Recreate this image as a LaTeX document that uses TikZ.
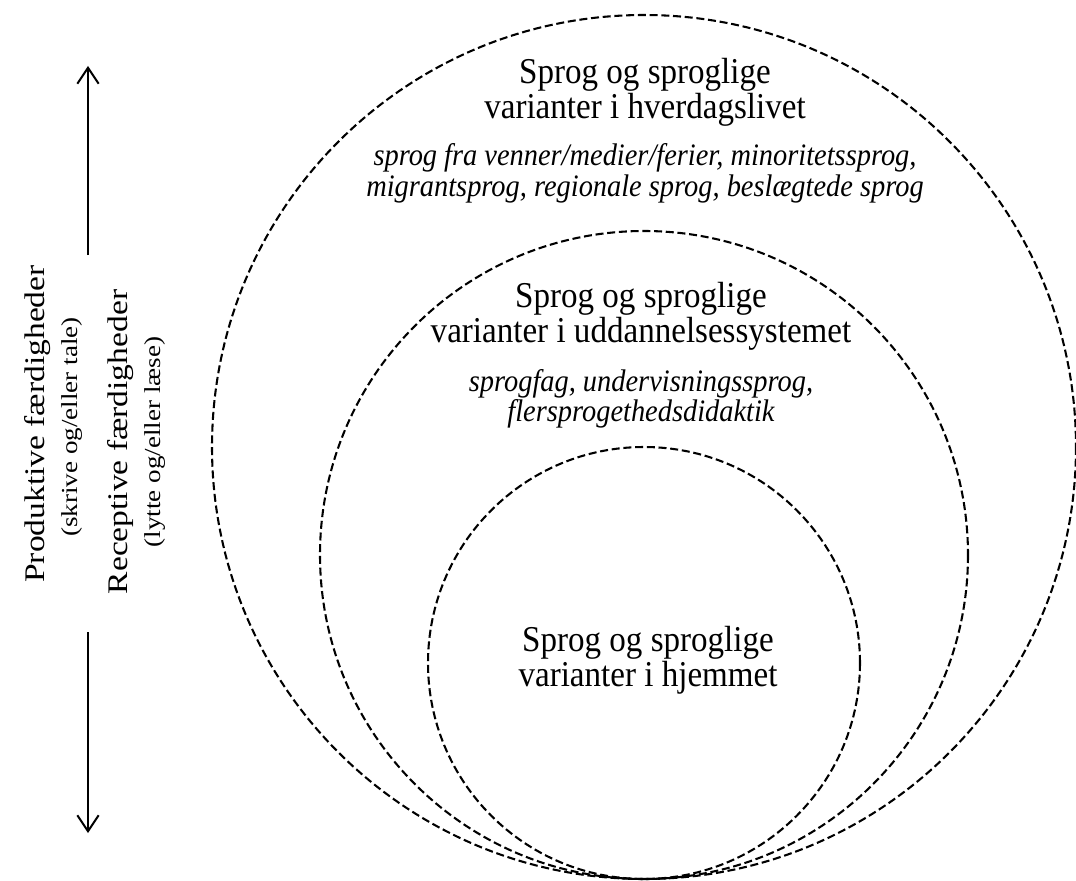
\documentclass[tikz,border=0pt]{standalone}
\usepackage{graphicx}
\usepackage{fontspec}
\setmainfont{Liberation Serif}
\usetikzlibrary{arrows.meta}
\newcommand\vst[1]{\scalebox{1}[1.1]{#1}}
\newcommand\hst[1]{\scalebox{1.18}[1]{#1}}
\tikzset{
  ring/.style={draw=black, line width=1.55pt, dash pattern=on 6pt off 2.8pt},
  title/.style={anchor=base, inner sep=0pt, font=\fontsize{24.8pt}{26pt}\selectfont},
  items/.style={anchor=base, inner sep=0pt, font=\fontsize{21.3pt}{23pt}\selectfont\itshape},
  side/.style={anchor=base, inner sep=0pt, rotate=90, font=\fontsize{21.3pt}{23pt}\selectfont},
  sidesub/.style={anchor=base, inner sep=0pt, rotate=90, font=\fontsize{17.2pt}{19pt}\selectfont},
  arr/.style={line width=1.5pt, -{Straight Barb[length=12pt,width=16pt]}}
}
\begin{document}
\begin{tikzpicture}[x=0.75pt, y=-0.75pt]
\useasboundingbox (0,0) rectangle (1076,881);
% circles
\coordinate (cOuter) at (644,447);
\coordinate (cMid) at (644,555);
\coordinate (cIn) at (644,663);
\draw[ring] (cOuter) circle[radius=432];
\draw[ring] (cMid) circle[radius=324];
\draw[ring] (cIn) circle[radius=216];
% outer texts
\node[title] (o1) at (645,84) {\vst{Sprog og sproglige}};
\node[title] (o2) at (645,118) {\vst{varianter i hverdagslivet}};
\node[items] (o3) at (645,166) {\vst{sprog fra venner/medier/ferier, minoritetssprog,}};
\node[items] (o4) at (645,196) {\vst{migrantsprog, regionale sprog, beslægtede sprog}};
% middle texts
\node[title] (m1) at (641,307) {\vst{Sprog og sproglige}};
\node[title] (m2) at (641,342) {\vst{varianter i uddannelsessystemet}};
\node[items] (m3) at (641,391) {\vst{sprogfag, undervisningssprog,}};
\node[items] (m4) at (641,421) {\vst{flersprogethedsdidaktik}};
% inner texts
\node[title] (i1) at (648,651) {\vst{Sprog og sproglige}};
\node[title] (i2) at (648,686) {\vst{varianter i hjemmet}};
% side labels
\node[side] (p1) at (44,424) {\hst{Produktive færdigheder}};
\node[sidesub] (p2) at (77,427) {\hst{(skrive og/eller tale)}};
\node[side] (r1) at (127,442) {\hst{Receptive færdigheder}};
\node[sidesub] (r2) at (160,442) {\hst{(lytte og/eller læse)}};
% arrows
\coordinate (upS) at (88,255);
\coordinate (upE) at (88,66);
\coordinate (dnS) at (88,632);
\coordinate (dnE) at (88,833);
\draw[arr] (upS) -- (upE);
\draw[arr] (dnS) -- (dnE);
\end{tikzpicture}
\end{document}
